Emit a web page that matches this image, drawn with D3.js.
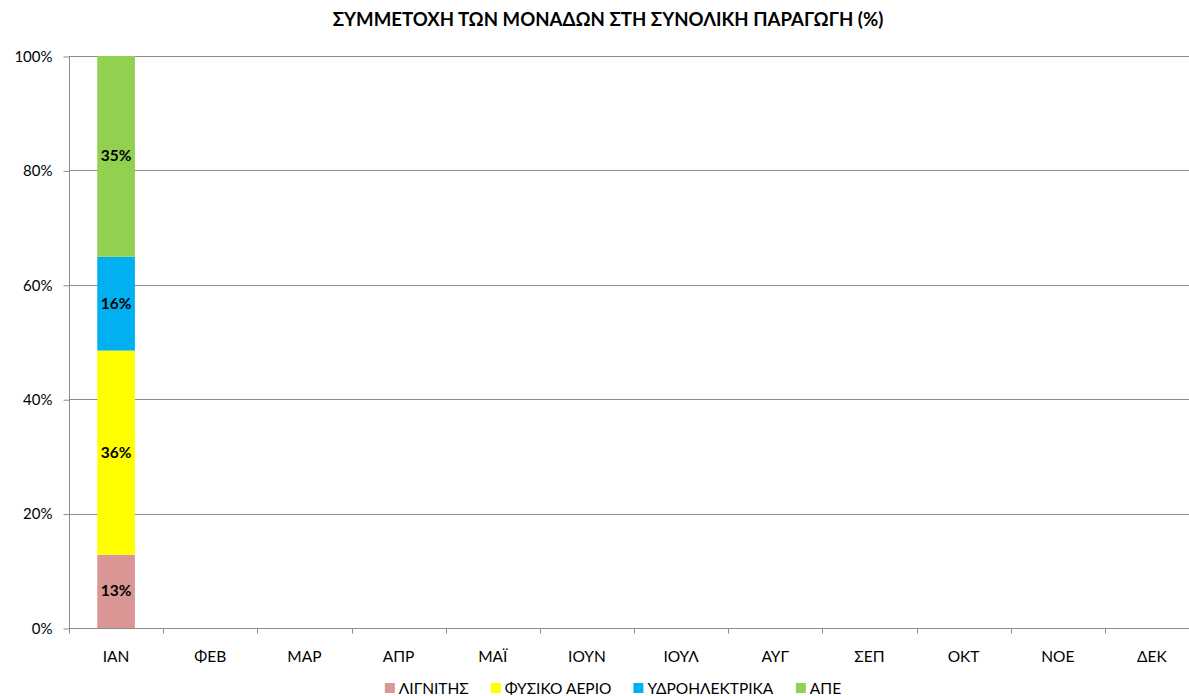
<!DOCTYPE html>
<html>
<head>
<meta charset="utf-8">
<script src="https://cdn.jsdelivr.net/npm/d3@7"></script>
<style>
  body { margin: 0; background: #fff; }
  svg text { font-family: Lato, "Noto Sans", sans-serif; fill: #000; }
</style>
</head>
<body>
<div id="chart"></div>
<script>
const months = ['ΙΑΝ', 'ΦΕΒ', 'ΜΑΡ', 'ΑΠΡ', 'ΜΑΪ', 'ΙΟΥΝ', 'ΙΟΥΛ', 'ΑΥΓ', 'ΣΕΠ', 'ΟΚΤ', 'ΝΟΕ', 'ΔΕΚ'];
const seriesNames = ['ΛΙΓΝΙΤΗΣ', 'ΦΥΣΙΚΟ ΑΕΡΙΟ', 'ΥΔΡΟΗΛΕΚΤΡΙΚΑ', 'ΑΠΕ'];
const seriesColors = ['#d99694', '#ffff00', '#00b0f0', '#92d050'];
// share per month (only January has data)
const lignite = [0.128, null, null, null, null, null, null, null, null, null, null, null];
const gas = [0.357, null, null, null, null, null, null, null, null, null, null, null];
const hydro = [0.164, null, null, null, null, null, null, null, null, null, null, null];
const res = [0.351, null, null, null, null, null, null, null, null, null, null, null];
const yTicks = [0, 0.2, 0.4, 0.6, 0.8, 1];

const width = 1189;
const height = 696;
const margin = { top: 56, right: -10, bottom: 68, left: 69 };

const rows = months.map((m, i) => ({
  month: m,
  [seriesNames[0]]: lignite[i] || 0,
  [seriesNames[1]]: gas[i] || 0,
  [seriesNames[2]]: hydro[i] || 0,
  [seriesNames[3]]: res[i] || 0,
  hasData: lignite[i] != null
}));

const svg = d3.select('#chart')
  .append('svg')
  .attr('width', width)
  .attr('height', height);

const x = d3.scaleBand()
  .domain(months)
  .range([margin.left, width - margin.right])
  .paddingInner(0.6)
  .paddingOuter(0.3);

const y = d3.scaleLinear()
  .domain([0, 1])
  .range([height - margin.bottom, margin.top]);

// title
svg.append('text')
  .attr('x', 608)
  .attr('y', 26)
  .attr('text-anchor', 'middle')
  .style('font-size', '18.6px')
  .style('font-weight', 'bold')
  .text('ΣΥΜΜΕΤΟΧΗ ΤΩΝ ΜΟΝΑΔΩΝ ΣΤΗ ΣΥΝΟΛΙΚΗ ΠΑΡΑΓΩΓΗ (%)');

// gridlines
svg.append('g')
  .selectAll('line')
  .data(yTicks.slice(1))
  .join('line')
  .attr('x1', margin.left)
  .attr('x2', width)
  .attr('y1', d => Math.round(y(d)) + 0.5)
  .attr('y2', d => Math.round(y(d)) + 0.5)
  .attr('stroke', '#8c8c8c')
  .attr('stroke-width', 1);

// y axis
const yAxis = svg.append('g')
  .attr('transform', `translate(${margin.left + 0.5},0.5)`)
  .call(d3.axisLeft(y).tickValues(yTicks).tickFormat(d3.format('.0%')).tickSize(6).tickPadding(11));
yAxis.select('.domain').attr('stroke', '#8c8c8c').attr('d', `M0,${y(1)}V${y(0)}`);
yAxis.selectAll('.tick line').attr('stroke', '#8c8c8c');
yAxis.selectAll('.tick text').style('font-size', '15px').style('font-family', 'Lato, "Noto Sans", sans-serif').attr('fill', '#000');

// x axis
const step = x.step();
const xAxis = svg.append('g')
  .attr('transform', `translate(0,${y(0) + 0.5})`);
xAxis.append('line')
  .attr('x1', margin.left)
  .attr('x2', width)
  .attr('stroke', '#8c8c8c');
xAxis.selectAll('line.tk')
  .data(months)
  .join('line')
  .attr('class', 'tk')
  .attr('x1', d => Math.round(x(d) + x.bandwidth() / 2 - step / 2) + 0.5)
  .attr('x2', d => Math.round(x(d) + x.bandwidth() / 2 - step / 2) + 0.5)
  .attr('y1', 0)
  .attr('y2', 5)
  .attr('stroke', '#8c8c8c');
xAxis.selectAll('text')
  .data(months)
  .join('text')
  .attr('x', d => x(d) + x.bandwidth() / 2)
  .attr('y', 33)
  .attr('text-anchor', 'middle')
  .style('font-size', '15.5px')
  .text(d => d);

// stacked bars
const stack = d3.stack().keys(seriesNames);
const stacked = stack(rows);
const color = d3.scaleOrdinal().domain(seriesNames).range(seriesColors);

const layers = svg.append('g')
  .selectAll('g')
  .data(stacked)
  .join('g')
  .attr('fill', d => color(d.key));

layers.selectAll('rect')
  .data(d => d.filter(p => p.data.hasData))
  .join('rect')
  .attr('x', d => x(d.data.month))
  .attr('width', x.bandwidth())
  .attr('y', d => y(d[1]))
  .attr('height', d => y(d[0]) - y(d[1]));

layers.selectAll('text')
  .data(d => d.filter(p => p.data.hasData))
  .join('text')
  .attr('x', d => x(d.data.month) + x.bandwidth() / 2)
  .attr('y', d => (y(d[0]) + y(d[1])) / 2 + 5)
  .attr('text-anchor', 'middle')
  .style('font-size', '15.5px')
  .style('font-weight', 'bold')
  .text(d => d3.format('.0%')(d[1] - d[0]));

// legend
const legend = svg.append('g')
  .attr('transform', `translate(0,${height - 2})`);
const sq = 10;
const gapAfterSquare = 4;
const gapBetween = 22;
const items = legend.selectAll('g')
  .data(seriesNames)
  .join('g');
items.append('rect')
  .attr('width', sq)
  .attr('height', sq)
  .attr('y', -sq - 1)
  .attr('fill', d => color(d));
items.append('text')
  .attr('x', sq + gapAfterSquare)
  .attr('y', 0)
  .style('font-size', '15.5px')
  .text(d => d);

let widths = [];
items.each(function () { widths.push(this.getBBox().width); });
const total = d3.sum(widths) + gapBetween * (widths.length - 1);
let cursor = 613 - total / 2;
items.attr('transform', (d, i) => {
  const t = `translate(${cursor},0)`;
  cursor += widths[i] + gapBetween;
  return t;
});
</script>
</body>
</html>
